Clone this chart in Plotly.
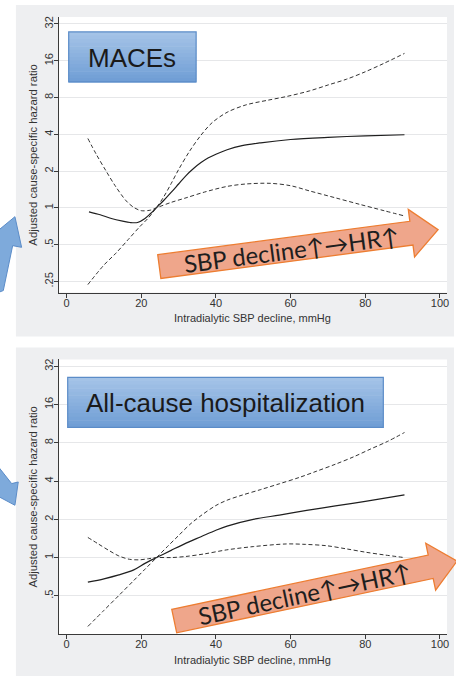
import math
import plotly.graph_objects as go

W, H = 456, 676

# ---- data: adjusted cause-specific hazard ratios vs intradialytic SBP decline ----
# MACEs panel
mace_est_x = [6, 9, 12, 15, 17, 19, 21, 22.5, 24, 26, 28, 30, 32, 34, 36, 38, 40, 43, 47, 52, 60, 70, 80, 90.5]
mace_est_hr = [0.93, 0.88, 0.82, 0.78, 0.76, 0.76, 0.82, 0.90, 1.0, 1.15, 1.34, 1.57, 1.84, 2.10, 2.35, 2.57, 2.75, 2.99, 3.23, 3.41, 3.63, 3.78, 3.89, 3.97]

mace_ci1_x = [5.7, 8, 10.6, 13, 16, 18, 20, 22.5, 24, 28, 32, 37, 43, 48, 54.5, 60, 65, 72, 78.5, 85, 90.5]
mace_ci1_hr = [3.7, 2.73, 2.0, 1.52, 1.14, 1.01, 0.95, 0.96, 1.0, 1.11, 1.21, 1.35, 1.5, 1.57, 1.59, 1.52, 1.38, 1.21, 1.07, 0.95, 0.86]

mace_ci2_x = [5.7, 10, 13.2, 16.5, 19.5, 22, 24, 26, 28, 30, 33, 36, 39, 43, 48, 54, 59, 65, 70, 75, 80, 85, 90.5]
mace_ci2_hr = [0.236, 0.341, 0.426, 0.551, 0.697, 0.835, 1.0, 1.23, 1.58, 2.06, 2.93, 3.94, 4.99, 6.06, 6.96, 7.62, 8.17, 9.06, 10.13, 11.31, 13.0, 15.24, 18.38]

# All-cause hospitalization panel
hosp_est_x = [5.7, 10, 14, 18, 21, 24.1, 28, 32, 36, 40, 43, 50, 57, 64.3, 72, 80, 90.5]
hosp_est_hr = [0.64, 0.68, 0.73, 0.80, 0.90, 1.0, 1.14, 1.30, 1.46, 1.64, 1.77, 2.0, 2.16, 2.35, 2.55, 2.77, 3.12]

hosp_ci1_x = [5.7, 8.5, 11.5, 14, 16.8, 19.5, 22, 24.1, 28, 31.9, 37, 42.9, 50, 58.9, 64, 69.6, 75, 80.3, 85, 90.5]
hosp_ci1_hr = [1.44, 1.28, 1.13, 1.03, 0.97, 0.96, 0.98, 1.0, 1.0, 1.02, 1.07, 1.15, 1.22, 1.28, 1.27, 1.24, 1.17, 1.10, 1.05, 1.0]

hosp_ci2_x = [5.7, 10, 14, 18, 21, 24.1, 27, 30, 33, 36, 40, 43, 47, 52, 57, 62.5, 67, 72, 77, 81, 86, 90.5]
hosp_ci2_hr = [0.287, 0.384, 0.503, 0.66, 0.81, 1.0, 1.22, 1.49, 1.82, 2.14, 2.57, 2.83, 3.10, 3.43, 3.81, 4.29, 4.79, 5.43, 6.23, 7.06, 8.22, 9.65]

x_ticks = [0, 20, 40, 60, 80, 100]
y_ticks_top = [0.25, 0.5, 1, 2, 4, 8, 16, 32]
y_text_top = [".25", ".5", "1", "2", "4", "8", "16", "32"]
y_ticks_bot = [0.5, 1, 2, 4, 8, 16, 32]
y_text_bot = [".5", "1", "2", "4", "8", "16", "32"]

panel_titles = ["MACEs", "All-cause hospitalization"]
arrow_label = "SBP decline\u2191\u2192HR\u2191"
x_title = "Intradialytic SBP decline, mmHg"
y_title = "Adjusted cause-specific hazard ratio"

# ---- styling ----
FONT = "Liberation Sans, Arial, Helvetica, sans-serif"
AXIS_COL = "#3a3a3a"
TICK_COL = "#333333"
GRID_COL = "#e6e7e9"
PANEL_GRAY = "#eeeff1"
EST_COL = "#1f1f1f"
CI_COL = "#333333"


def fx(p):
    return p / W


def fy(p):
    return 1 - p / H


fig = go.Figure()


def add_panel(xs, ys, xa, ya):
    fig.add_trace(go.Scatter(x=xs[0], y=ys[0], mode="lines", xaxis=xa, yaxis=ya,
                             line=dict(color=EST_COL, width=1.2, shape="spline", smoothing=0.9),
                             showlegend=False, hoverinfo="skip"))
    for cx, cy in zip(xs[1:], ys[1:]):
        fig.add_trace(go.Scatter(x=cx, y=cy, mode="lines", xaxis=xa, yaxis=ya,
                                 line=dict(color=CI_COL, width=1.0, dash="4px,2.5px",
                                           shape="spline", smoothing=0.9),
                                 showlegend=False, hoverinfo="skip"))


add_panel([mace_est_x, mace_ci1_x, mace_ci2_x], [mace_est_hr, mace_ci1_hr, mace_ci2_hr], "x", "y")
add_panel([hosp_est_x, hosp_ci1_x, hosp_ci2_x], [hosp_est_hr, hosp_ci1_hr, hosp_ci2_hr], "x2", "y2")

# plot areas in pixels (left, top, right, bottom)
top_area = (59, 16, 449, 292)
bot_area = (59, 359, 449, 634)

xaxis_common = dict(range=[-2.1, 101.9], tickvals=x_ticks, ticktext=[str(v) for v in x_ticks],
                    showgrid=False, zeroline=False, showline=True, linecolor=AXIS_COL, linewidth=1,
                    ticks="outside", ticklen=4, tickwidth=1, tickcolor=AXIS_COL,
                    ticklabelstandoff=-4,
                    tickfont=dict(family=FONT, size=11, color=TICK_COL))


def yaxis_common(tv, tt, lo, hi):
    return dict(type="log", range=[lo * math.log10(2), hi * math.log10(2)],
                tickvals=tv, ticktext=tt, tickangle=-90,
                showgrid=True, gridcolor=GRID_COL, gridwidth=1, zeroline=False,
                showline=True, linecolor=AXIS_COL, linewidth=1,
                ticks="outside", ticklen=4, tickwidth=1, tickcolor=AXIS_COL,
                ticklabelstandoff=-4,
                tickfont=dict(family=FONT, size=11, color=TICK_COL))


fig.update_layout(
    width=W, height=H, autosize=False,
    margin=dict(l=0, r=0, t=0, b=0),
    paper_bgcolor="white", plot_bgcolor="white",
    xaxis=dict(domain=[fx(top_area[0]), fx(top_area[2])], anchor="y", **xaxis_common),
    yaxis=dict(domain=[fy(top_area[3]), fy(top_area[1])], anchor="x",
               **yaxis_common(y_ticks_top, y_text_top, -2.30, 5.19)),
    xaxis2=dict(domain=[fx(bot_area[0]), fx(bot_area[2])], anchor="y2", **xaxis_common),
    yaxis2=dict(domain=[fy(bot_area[3]), fy(bot_area[1])], anchor="x2",
                **yaxis_common(y_ticks_bot, y_text_bot, -2.0, 5.18)),
)

shapes = []


def rect(x0, y0, x1, y1, fill, line_col=None, lw=0, layer="below"):
    shapes.append(dict(type="rect", xref="paper", yref="paper",
                       x0=fx(x0), x1=fx(x1), y0=fy(y1), y1=fy(y0),
                       fillcolor=fill, line=dict(color=line_col or fill, width=lw), layer=layer))


def poly(pts, fill, line_col, lw=1, layer="above"):
    d = "M " + " L ".join(f"{fx(a):.5f},{fy(b):.5f}" for a, b in pts) + " Z"
    shapes.append(dict(type="path", xref="paper", yref="paper", path=d,
                       fillcolor=fill, line=dict(color=line_col, width=lw), layer=layer))


# gray panel backgrounds, then white plot regions
rect(16, 4, 456, 336, PANEL_GRAY)
rect(16, 347, 456, 676, PANEL_GRAY)
rect(*top_area, "white")
rect(*bot_area, "white")


def gradient_box(x0, y0, x1, y1, c_top, c_bot, border, n=14):
    h = (y1 - y0) / n
    for i in range(n):
        t = i / (n - 1)
        c = tuple(round(a + (b - a) * t) for a, b in zip(c_top, c_bot))
        rect(x0, y0 + i * h, x1, y0 + (i + 1) * h + 0.6, f"rgb{c}", layer="above")
    shapes.append(dict(type="rect", xref="paper", yref="paper",
                       x0=fx(x0), x1=fx(x1), y0=fy(y1), y1=fy(y0),
                       fillcolor="rgba(0,0,0,0)", line=dict(color=border, width=1.2), layer="above"))


BLUE_TOP = (164, 195, 231)
BLUE_BOT = (112, 158, 213)
BLUE_EDGE = "#5b8cc8"
gradient_box(69, 31, 197, 81, BLUE_TOP, BLUE_BOT, BLUE_EDGE)
gradient_box(68, 377, 385, 427, BLUE_TOP, BLUE_BOT, BLUE_EDGE)


def block_arrow(left, tip, half_body=12, half_head=24, head_len=27):
    lx, ly = left
    tx, ty = tip
    L = math.hypot(tx - lx, ty - ly)
    ux, uy = (tx - lx) / L, (ty - ly) / L
    nx, ny = -uy, ux
    bx, by = tx - ux * head_len, ty - uy * head_len
    return [
        (lx - nx * half_body, ly - ny * half_body),
        (bx - nx * half_body, by - ny * half_body),
        (bx - nx * half_head, by - ny * half_head),
        (tx, ty),
        (bx + nx * half_head, by + ny * half_head),
        (bx + nx * half_body, by + ny * half_body),
        (lx + nx * half_body, ly + ny * half_body),
    ]


ORANGE_FILL = "#efa68b"
ORANGE_EDGE = "#ed7d31"
poly(block_arrow((160, 266), (440, 229)), ORANGE_FILL, ORANGE_EDGE, 1.3)
poly(block_arrow((175, 621), (459, 561)), ORANGE_FILL, ORANGE_EDGE, 1.3)

# partial blue arrows at the left edge
BLUE_FILL = "#7eaadb"
poly([(-2, 230), (15, 216), (21.7, 246.7), (12.7, 245), (3.3, 290), (-2, 292)], BLUE_FILL, BLUE_EDGE, 1)
poly([(-2, 466), (11.7, 483.3), (18.3, 481.7), (15, 505), (-2, 496)], BLUE_FILL, BLUE_EDGE, 1)

fig.update_layout(shapes=shapes)

ann = []
for (x0, y0, x1, y1), label in zip([(69, 31, 197, 81), (68, 377, 385, 427)], panel_titles):
    ann.append(dict(x=fx((x0 + x1) / 2), y=fy((y0 + y1) / 2 + 1), xref="paper", yref="paper",
                    text=label, showarrow=False, xanchor="center", yanchor="middle",
                    font=dict(family=FONT, size=26, color="#1a1a1a")))

for (cx, cy), ang in [((293, 249), -7.5), ((306, 593), -12)]:
    ann.append(dict(x=fx(cx), y=fy(cy), xref="paper", yref="paper", text=arrow_label,
                    showarrow=False, xanchor="center", yanchor="middle", textangle=ang,
                    font=dict(family="Lato, Open Sans, DejaVu Sans, sans-serif", size=24, color="#1e1e1e")))

for area, ty in [(top_area, 317), (bot_area, 660)]:
    ann.append(dict(x=fx((area[0] + area[2]) / 2), y=fy(ty), xref="paper", yref="paper",
                    text=x_title, showarrow=False, xanchor="center", yanchor="middle",
                    font=dict(family=FONT, size=11, color=TICK_COL)))
    ann.append(dict(x=fx(33), y=fy((area[1] + area[3]) / 2), xref="paper", yref="paper",
                    text=y_title, showarrow=False, xanchor="center", yanchor="middle", textangle=-90,
                    font=dict(family=FONT, size=11.3, color=TICK_COL)))

fig.update_layout(annotations=ann)

fig.write_html("out.html")
